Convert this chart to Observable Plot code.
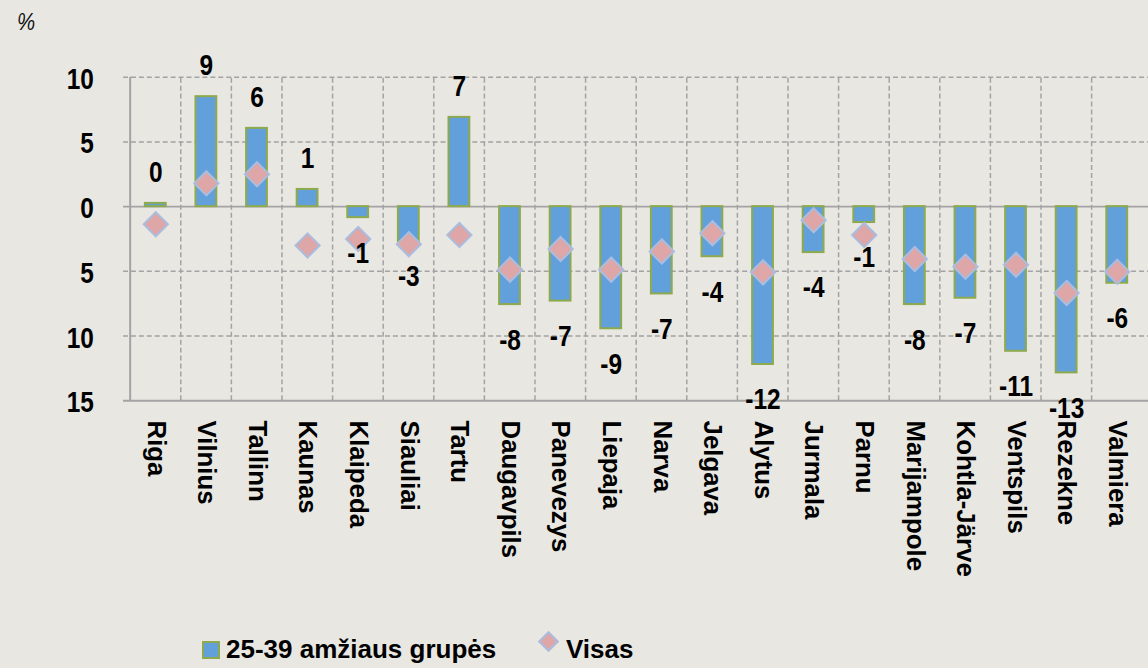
<!DOCTYPE html>
<html>
<head>
<meta charset="utf-8">
<script src="https://cdn.jsdelivr.net/npm/d3@7"></script>
<script src="https://cdn.jsdelivr.net/npm/@observablehq/plot@0.6"></script>
<style>
  html, body { margin: 0; padding: 0; background: #e8e7e2; overflow: hidden; width: 1148px; height: 668px; }
  #wrap { position: relative; width: 1148px; height: 668px; }
  #unit { position: absolute; left: 17px; top: 8px; font: italic 24px "Liberation Sans", Arial, sans-serif; color: #111; transform: scaleX(0.85); transform-origin: left center; }
  #chart { position: absolute; left: 0; top: 45px; }
  .leg { position: absolute; font: bold 26px "Liberation Sans", Arial, sans-serif; color: #000; white-space: nowrap; line-height: 26px; }
  .sw { position: absolute; width: 14px; height: 14px; background: #62a0dc; border: 2px solid #8faa4c; }
  .dm { position: absolute; width: 11px; height: 11px; background: #dea6a6; border: 2px solid #a9bde0; transform: rotate(45deg); }
</style>
</head>
<body>
<div id="wrap">
  <div id="unit">%</div>
  <div id="chart"></div>
  <div class="sw" style="left:202px; top:641px;"></div>
  <div class="leg" style="left:226px; top:636px;">25-39 amžiaus grupės</div>
  <div class="dm" style="left:541px; top:634px;"></div>
  <div class="leg" style="left:566px; top:636px;">Visas</div>
</div>
<script>
const cities = ["Riga","Vilnius","Tallinn","Kaunas","Klaipeda","Siauliai","Tartu","Daugavpils","Panevezys","Liepaja","Narva","Jelgava","Alytus","Jurmala","Parnu","Marijampole","Kohtla-Järve","Ventspils","Rezekne","Valmiera"];
const youth = [0.25, 8.5, 6.05, 1.33, -0.85, -2.7, 6.9, -7.57, -7.3, -9.44, -6.75, -3.87, -12.2, -3.55, -1.23, -7.57, -7.08, -11.18, -12.85, -5.92];
const total = [-1.36, 1.8, 2.5, -3.0, -2.5, -2.9, -2.2, -4.87, -3.28, -4.87, -3.46, -2.05, -5.08, -1.05, -2.2, -4.05, -4.64, -4.5, -6.67, -5.03];
const yTicks = [-15, -10, -5, 0, 5, 10];

const data = cities.map((c, i) => ({city: c, youth: youth[i], total: total[i]}));

const W = 1157, H = 560, ML = 124, MR = 0, MT = 32, MB = 202;
const bw = (W - ML - MR) / cities.length;
const gridColor = "#a3a3a3";
const sans = "Liberation Sans, Arial, sans-serif";

const chart = Plot.plot({
  width: W, height: H,
  marginLeft: ML, marginRight: MR, marginTop: MT, marginBottom: MB,
  style: {background: "transparent", fontFamily: sans, color: "#000"},
  x: {type: "band", domain: cities, padding: 0},
  y: {domain: [-15, 10]},
  marks: [
    Plot.ruleY(yTicks.filter(t => t !== 0 && t !== -15), {stroke: gridColor, strokeWidth: 1.5, strokeDasharray: "5,3"}),
    Plot.ruleX(cities.slice(1), {x: d => d, y1: -15, y2: 10, dx: -bw / 2, stroke: gridColor, strokeWidth: 1.5, strokeDasharray: "5,3"}),
    Plot.ruleY([0, -15], {stroke: gridColor, strokeWidth: 2}),
    Plot.ruleX(cities.slice(0, 1), {x: d => d, y1: -15, y2: 10, dx: -bw / 2, stroke: gridColor, strokeWidth: 2}),
    Plot.barY(data, {x: "city", y: "youth", fill: "#62a0dc", stroke: "#8faa4c", strokeWidth: 2, insetLeft: 15, insetRight: 15}),
    Plot.dot(data, {x: "city", y: "total", symbol: "diamond2", r: 11, fill: "#dea6a6", stroke: "#a9bde0", strokeWidth: 2}),
    Plot.text(data.filter(d => d.youth >= 0), {x: "city", y: "youth", text: d => String(Math.round(d.youth)), dy: -31, fontSize: 29, fontWeight: "bold", fill: "#000", className: "narrowtxt"}),
    Plot.text(data.filter(d => d.youth < 0), {x: "city", y: "youth", text: d => String(Math.round(d.youth)), dy: 36, fontSize: 29, fontWeight: "bold", fill: "#000", className: "narrowtxt"}),
    Plot.axisY({ticks: yTicks, tickSize: 0, tickPadding: 30, tickFormat: d => String(Math.abs(d)), fontSize: 30, fontWeight: "bold", fill: "#000", label: null, dy: 2, className: "narrowtick"}),
    Plot.axisX({tickRotate: 90, tickSize: 0, tickPadding: 20, fontSize: 26, fontWeight: "bold", fill: "#000", label: null})
  ]
});

// condense horizontal texts (labels and y ticks) around their anchor point
function condense(sel, s) {
  d3.select(chart).selectAll(sel).each(function () {
    const x = +this.getAttribute("x") || 0;
    const y = +this.getAttribute("y") || 0;
    const t = this.getAttribute("transform") || "";
    this.setAttribute("transform", `${t} translate(${x},${y}) scale(${s},1) translate(${-x},${-y})`);
  });
}
condense(".narrowtxt text", 0.85);
condense(".narrowtick text", 0.82);

document.getElementById("chart").appendChild(chart);
</script>
</body>
</html>
